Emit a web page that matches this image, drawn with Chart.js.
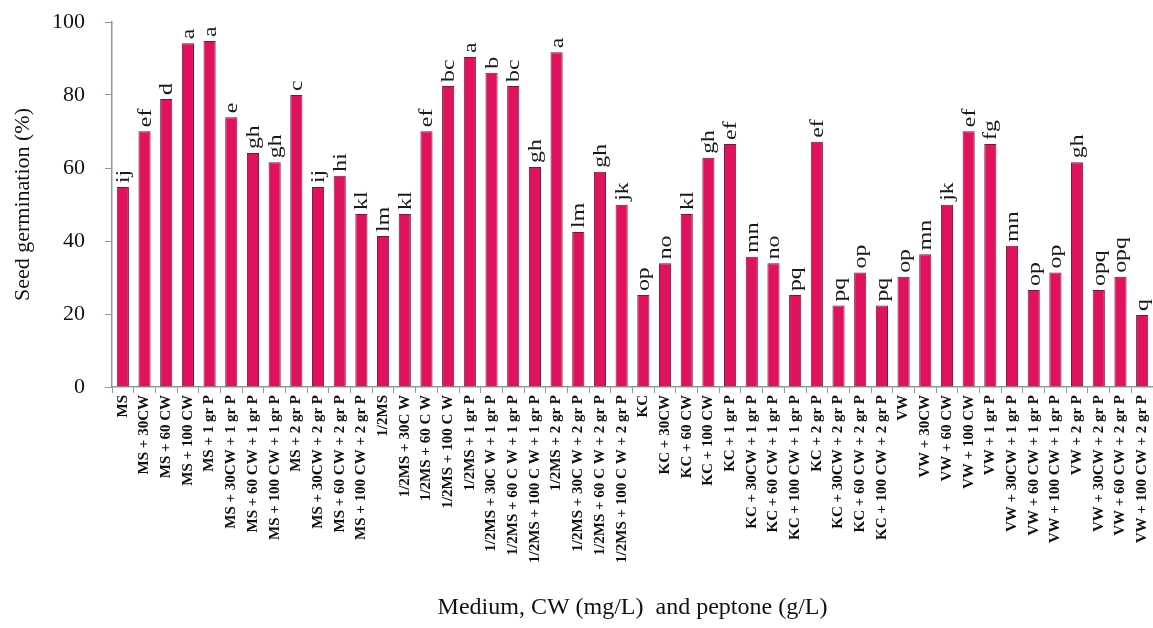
<!DOCTYPE html>
<html>
<head>
<meta charset="utf-8">
<script src="https://cdn.jsdelivr.net/npm/chart.js@4/dist/chart.umd.min.js"></script>
<style>
  html, body { margin: 0; padding: 0; background: #ffffff; }
  #wrap { width: 1153px; height: 628px; position: relative; }
  canvas { display: block; }
</style>
</head>
<body>
<div id="wrap"><canvas id="c" width="1153" height="628"></canvas></div>
<script>
const categories = [
  "MS", "MS + 30CW", "MS + 60 CW", "MS + 100 CW",
  "MS + 1 gr P", "MS + 30CW + 1 gr P", "MS + 60 CW + 1 gr P", "MS + 100 CW + 1 gr P",
  "MS + 2 gr P", "MS + 30CW + 2 gr P", "MS + 60 CW + 2 gr P", "MS + 100 CW + 2 gr P",
  "1/2MS", "1/2MS + 30C W", "1/2MS + 60 C W", "1/2MS + 100 C W",
  "1/2MS + 1 gr P", "1/2MS + 30C W + 1 gr P", "1/2MS + 60 C W + 1 gr P", "1/2MS + 100 C W + 1 gr P",
  "1/2MS + 2 gr P", "1/2MS + 30C W + 2 gr P", "1/2MS + 60 C W + 2 gr P", "1/2MS + 100 C W + 2 gr P",
  "KC", "KC + 30CW", "KC + 60 CW", "KC + 100 CW",
  "KC + 1 gr P", "KC + 30CW + 1 gr P", "KC + 60 CW + 1 gr P", "KC + 100 CW + 1 gr P",
  "KC + 2 gr P", "KC + 30CW + 2 gr P", "KC + 60 CW + 2 gr P", "KC + 100 CW + 2 gr P",
  "VW", "VW + 30CW", "VW + 60 CW", "VW + 100 CW",
  "VW + 1 gr P", "VW + 30CW + 1 gr P", "VW + 60 CW + 1 gr P", "VW + 100 CW + 1 gr P",
  "VW + 2 gr P", "VW + 30CW + 2 gr P", "VW + 60 CW + 2 gr P", "VW + 100 CW + 2 gr P"
];
const germination = [
  54.8, 70.1, 78.9, 94.2, 94.8, 73.9, 64.1, 61.6, 80.0, 54.8, 57.9, 47.4,
  41.4, 47.4, 70.1, 82.5, 90.4, 86.1, 82.5, 60.3, 91.7, 42.5, 59.0, 49.9,
  25.2, 33.9, 47.4, 62.8, 66.6, 35.7, 33.9, 25.2, 67.2, 22.3, 31.4, 22.3,
  30.2, 36.4, 49.9, 70.1, 66.6, 38.7, 26.6, 31.4, 61.6, 26.6, 30.2, 19.7
];
const letters = [
  "ij", "ef", "d", "a", "a", "e", "gh", "gh", "c", "ij", "hi", "kl",
  "lm", "kl", "ef", "bc", "a", "b", "bc", "gh", "a", "lm", "gh", "jk",
  "op", "no", "kl", "gh", "ef", "mn", "no", "pq", "ef", "pq", "op", "pq",
  "op", "mn", "jk", "ef", "fg", "mn", "op", "op", "gh", "opq", "opq", "q"
];
const yTicks = [0, 20, 40, 60, 80, 100];

const serif = "'Liberation Serif', 'DejaVu Serif', serif";

const letterPlugin = {
  id: 'letters',
  afterDatasetsDraw(chart) {
    const ctx = chart.ctx;
    const meta = chart.getDatasetMeta(0);
    ctx.save();
    ctx.font = "19px " + serif;
    meta.data.forEach((bar, i) => {
      const txt = letters[i];
      const w = ctx.measureText(txt).width;
      ctx.save();
      ctx.translate(bar.x, bar.y - 4);
      ctx.rotate(-Math.PI / 2);
      ctx.scale(1.25, 1);
      ctx.fillStyle = '#ffffff';
      ctx.fillRect(-1, -9, w + 2, 18);
      ctx.fillStyle = '#1a1a1a';
      ctx.textAlign = 'left';
      ctx.textBaseline = 'middle';
      ctx.fillText(txt, 0, 1);
      ctx.restore();
    });
    ctx.restore();
  }
};

new Chart(document.getElementById('c'), {
  type: 'bar',
  data: {
    labels: categories,
    datasets: [{
      data: germination,
      backgroundColor: '#e0125e',
      borderColor: '#7a1535',
      borderWidth: 1,
      barPercentage: 0.56,
      categoryPercentage: 1.0
    }]
  },
  options: {
    responsive: false,
    maintainAspectRatio: false,
    animation: false,
    devicePixelRatio: 1,
    layout: { padding: { top: 22, right: 0, bottom: 6, left: 10 } },
    plugins: { legend: { display: false }, tooltip: { enabled: false } },
    scales: {
      x: {
        offset: true,
        grid: { display: true, drawOnChartArea: false, drawTicks: true, tickLength: 6, color: '#8a9a9a', offset: true },
        border: { display: true, color: '#8a9a9a', width: 1.5 },
        ticks: {
          autoSkip: false, maxRotation: 90, minRotation: 90, padding: 2,
          color: '#111', font: { family: serif, size: 15, weight: 'bold' }
        },
        title: {
          display: true, text: 'Medium, CW (mg/L)  and peptone (g/L)',
          color: '#111', font: { family: serif, size: 24 }, padding: { top: 4, bottom: 0 }
        },
        afterFit(scale) { scale.height = 235; scale.paddingLeft = 0; scale.paddingRight = 0; }
      },
      y: {
        min: 0, max: 100,
        afterBuildTicks(scale) { scale.ticks = yTicks.map(v => ({ value: v })); },
        grid: { display: true, drawOnChartArea: false, drawTicks: true, tickLength: 7, color: '#8a9a9a' },
        border: { display: true, color: '#8a9a9a', width: 1.5 },
        ticks: { color: '#111', padding: 20, font: { family: serif, size: 22 } },
        title: {
          display: true, text: 'Seed germination (%)',
          color: '#111', font: { family: serif, size: 22 }, padding: { top: 0, bottom: 4 }
        },
        afterFit(scale) { scale.width = 102; scale.paddingTop = 0; scale.paddingBottom = 0; }
      }
    }
  },
  plugins: [letterPlugin]
});
</script>
</body>
</html>
